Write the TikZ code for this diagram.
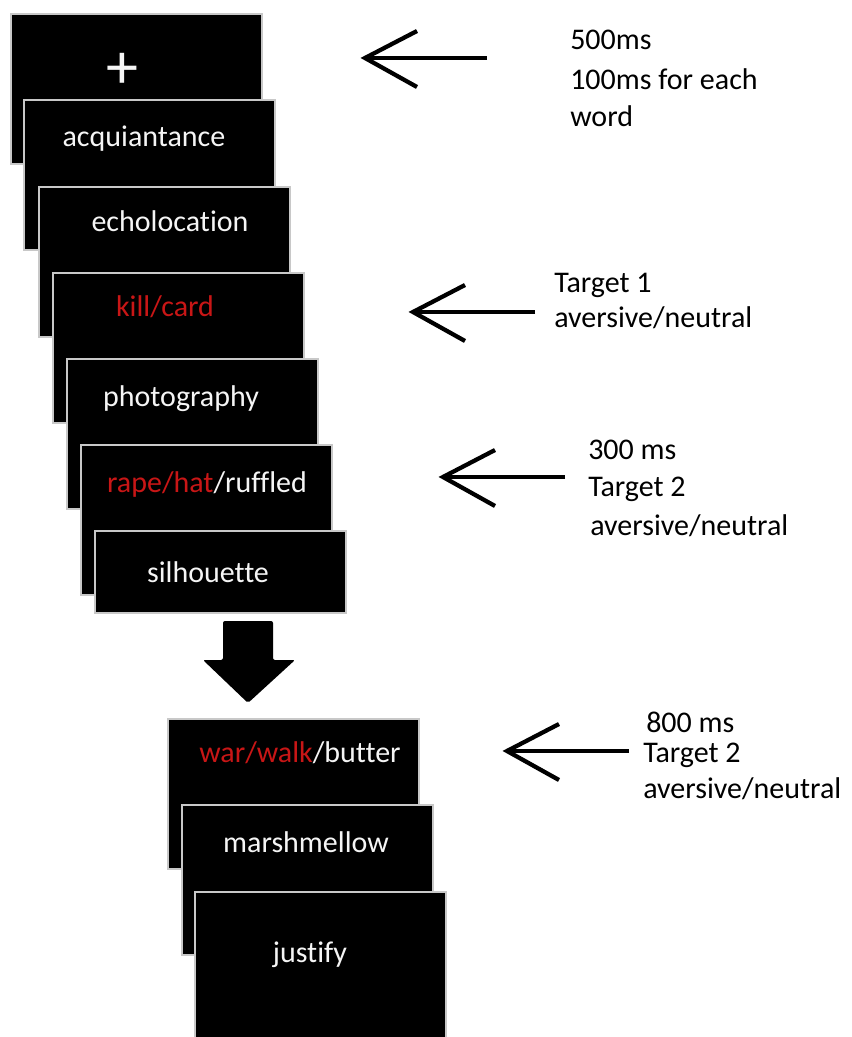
\documentclass[tikz,border=0pt]{standalone}
\usepackage{fontspec}
\setmainfont[Ligatures={NoCommon}]{Carlito}
\usetikzlibrary{calc}
\definecolor{wordred}{RGB}{200,22,22}
\definecolor{wordwhite}{RGB}{245,245,245}
\definecolor{edge}{RGB}{200,200,200}
\begin{document}
\begin{tikzpicture}[x=0.75pt,y=-0.75pt,
  slide/.style={fill=black,draw=edge,line width=1.2pt,anchor=north west,inner sep=0pt,
    minimum width=251*0.75pt,minimum height=150*0.75pt},
  word/.style={text=wordwhite,anchor=base,inner sep=0pt,font=\fontsize{22.5}{27}\selectfont},
  note/.style={text=black,anchor=base west,inner sep=0pt,font=\fontsize{22.5}{27}\selectfont},
  pointer/.style={line width=3pt,black},
  barb/.style={line width=3.2pt,black,line join=miter}]
\useasboundingbox (0,0) rectangle (851,1037);
\clip (0,0) rectangle (851,1037);
% first sequence of slides
\node[slide] (b1) at (10,13) {};
\node[slide] (b2) at (23,99) {};
\node[slide] (b3) at (38,186) {};
\node[slide] (b4) at (52,272) {};
\node[slide] (b5) at (66,358) {};
\node[slide] (b6) at (80,444) {};
\node[slide,minimum height=82*0.75pt] (b7) at (94,530) {};
\node[text=wordwhite,inner sep=0pt,font=\fontsize{48}{48}\selectfont] (t1) at (122,71) {+};
\node[word] (t2) at (144,147) {acquiantance};
\node[word] (t3) at (170,232) {echolocation};
\node[word,text=wordred] (t4) at (165,316) {kill/card};
\node[word] (t5) at (181,406) {photography};
\node[word] (t6) at (207,492) {\textcolor{wordred}{rape/hat}/ruffled};
\node[word] (t7) at (208,582) {silhouette};
% block arrow down
\fill[rounded corners=1.5pt] (223,621) -- (273,621) -- (273,660) -- (295,660) -- (248,703) -- (203,660) -- (223,660) -- cycle;
% second sequence
\node[slide] (b8) at (167,718) {};
\node[slide] (b9) at (181,804) {};
\node[slide,minimum height=150*0.75pt] (b10) at (194,891) {};
\node[word] (t8) at (300,762) {\textcolor{wordred}{war/walk}/butter};
\node[word] (t9) at (306,852) {marshmellow};
\node[word] (t10) at (310,962) {justify};
% pointing arrows
\coordinate (p1) at (365,58);  \coordinate (q1) at (487,58);
\coordinate (p2) at (413,312); \coordinate (q2) at (535,312);
\coordinate (p3) at (443,477); \coordinate (q3) at (565,477);
\coordinate (p4) at (507,751); \coordinate (q4) at (629,751);
\foreach \i in {1,2,3,4}{
  \draw[pointer] (q\i) -- (p\i);
  \draw[barb] ($(p\i)+(52,-27)$) -- (p\i) -- ($(p\i)+(52,29)$);
}
% notes
\node[note] (n1) at (570,50) {500ms};
\node[note] (n2) at (570,90) {100ms for each};
\node[note] (n3) at (570,127) {word};
\node[note] (n4) at (554,292) {Target 1};
\node[note] (n5) at (554,327) {aversive/neutral};
\node[note] (n6) at (588,459) {300 ms};
\node[note] (n7) at (588,496) {Target 2};
\node[note] (n8) at (590,535) {aversive/neutral};
\node[note] (n9) at (646,732) {800 ms};
\node[note] (n10) at (643,762) {Target 2};
\node[note] (n11) at (643,798) {aversive/neutral};
\end{tikzpicture}
\end{document}
